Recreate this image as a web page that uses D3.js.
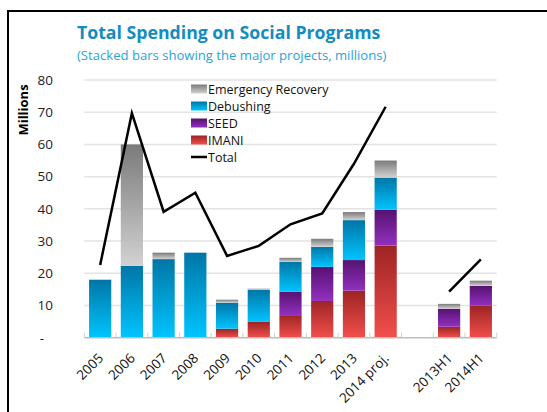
<!DOCTYPE html>
<html>
<head>
<meta charset="utf-8">
<script src="https://cdn.jsdelivr.net/npm/d3@7"></script>
<style>
  html, body { margin: 0; padding: 0; background: #fff; }
  svg { display: block; font-family: "Open Sans", "Noto Sans", sans-serif; }
</style>
</head>
<body>
<svg id="chart" width="547" height="412"></svg>
<script>
// Spending by programme, millions
const categories = ["2005", "2006", "2007", "2008", "2009", "2010", "2011", "2012", "2013", "2014 proj.", "", "2013H1", "2014H1"];
const imani      = [0, 0, 0, 0, 2.8, 4.9, 7.0, 11.4, 14.6, 28.6, null, 3.4, 9.9];
const seed       = [0, 0, 0, 0, 0, 0, 7.3, 10.6, 9.5, 11.1, null, 5.6, 6.2];
const debushing  = [18.0, 22.3, 24.4, 26.4, 8.1, 10.0, 9.2, 6.2, 12.4, 10.0, null, 0, 0];
const emergency  = [0, 37.7, 2.0, 0, 0.9, 0.3, 1.3, 2.5, 2.5, 5.3, null, 1.5, 1.6];
const total      = [22.6, 69.7, 39.1, 45.0, 25.4, 28.5, 35.2, 38.6, 54.0, 71.7, null, 14.3, 24.3];
const yTicks     = [0, 10, 20, 30, 40, 50, 60, 70, 80];

const seriesKeys  = ["imani", "seed", "debushing", "emergency"];
const seriesNames = { imani: "IMANI", seed: "SEED", debushing: "Debushing", emergency: "Emergency Recovery" };
const gradStops = {
  imani:     ["#9c2424", "#f24f4b"],
  seed:      ["#561270", "#9230c0"],
  debushing: ["#0076a6", "#00c4ff"],
  emergency: ["#7a7a7a", "#d2d2d2"]
};

const rows = categories.map((c, i) => ({
  cat: c,
  imani: imani[i] || 0,
  seed: seed[i] || 0,
  debushing: debushing[i] || 0,
  emergency: emergency[i] || 0,
  total: total[i]
}));

const svg = d3.select("#chart");

// frame
svg.append("line").attr("x1", 7).attr("x2", 547).attr("y1", 11).attr("y2", 11)
  .attr("stroke", "#000").attr("stroke-width", 2);
svg.append("line").attr("x1", 8).attr("x2", 8).attr("y1", 10).attr("y2", 412)
  .attr("stroke", "#000").attr("stroke-width", 2);

// headings
svg.append("text").attr("x", 77).attr("y", 39)
  .attr("font-size", 17.7).attr("font-weight", "bold").attr("fill", "#138cbf")
  .text("Total Spending on Social Programs");
svg.append("text").attr("x", 77).attr("y", 60)
  .attr("font-size", 13.1).attr("fill", "#2aa3d8")
  .text("(Stacked bars showing the major projects, millions)");

const x = d3.scaleBand().domain(categories).range([84.3, 496.7])
  .paddingInner(0.3).paddingOuter(0.15);
const y = d3.scaleLinear().domain([0, 80]).range([337.7, 80]);

// gradients
const defs = svg.append("defs");
seriesKeys.forEach(k => {
  const g = defs.append("linearGradient").attr("id", "grad-" + k)
    .attr("x1", 0).attr("y1", 0).attr("x2", 0).attr("y2", 1);
  g.append("stop").attr("offset", "0%").attr("stop-color", gradStops[k][0]);
  g.append("stop").attr("offset", "100%").attr("stop-color", gradStops[k][1]);
});

// gridlines
svg.append("g").selectAll("line").data(yTicks.filter(t => t > 0)).join("line")
  .attr("x1", 84.3).attr("x2", 496.7)
  .attr("y1", d => y(d)).attr("y2", d => y(d))
  .attr("stroke", "#e3e3e3").attr("stroke-width", 1.5);

// y axis labels
const yAxis = d3.axisLeft(y).tickValues(yTicks).tickSize(0).tickPadding(0)
  .tickFormat(d => d === 0 ? "-" : d);
const yg = svg.append("g").attr("transform", "translate(53,0)").call(yAxis);
yg.select(".domain").remove();
yg.selectAll("text").attr("font-size", 13.5).attr("fill", "#222")
  .attr("font-family", "\"Open Sans\", sans-serif")
  .attr("dx", d => d === 0 ? -9 : 0);

svg.append("text")
  .attr("transform", "translate(28,110) rotate(-90)")
  .attr("text-anchor", "middle").attr("font-size", 13).attr("font-weight", "bold")
  .attr("fill", "#000").text("Millions");

// stacked bars
const stack = d3.stack().keys(seriesKeys);
const layers = stack(rows);
svg.append("g").selectAll("g").data(layers).join("g")
  .attr("fill", d => "url(#grad-" + d.key + ")")
  .selectAll("rect").data(d => d.filter(p => p[1] - p[0] > 0)).join("rect")
  .attr("x", d => x(d.data.cat))
  .attr("width", x.bandwidth())
  .attr("y", d => y(d[1]))
  .attr("height", d => y(d[0]) - y(d[1]));

// x axis
const step = x.step();
const boundaries = d3.range(categories.length + 1).map(i => 84.3 + i * step);
svg.append("g").selectAll("line").data(boundaries).join("line")
  .attr("x1", d => d).attr("x2", d => d)
  .attr("y1", y(0)).attr("y2", y(0) - 5)
  .attr("stroke", "#d0d0d0").attr("stroke-width", 1);
svg.append("line").attr("x1", 84.3).attr("x2", 496.7)
  .attr("y1", y(0)).attr("y2", y(0))
  .attr("stroke", "#bdbdbd").attr("stroke-width", 1.5);

svg.append("g").selectAll("text").data(categories.filter(c => c !== "")).join("text")
  .attr("transform", d => `translate(${x(d) + x.bandwidth() / 2 + 4},359) rotate(-45)`)
  .attr("text-anchor", "end").attr("font-size", 13.5).attr("fill", "#111")
  .text(d => d);

// total line
const line = d3.line()
  .defined(d => d.total != null)
  .x(d => x(d.cat) + x.bandwidth() / 2)
  .y(d => y(d.total));
svg.append("path").datum(rows).attr("d", line)
  .attr("fill", "none").attr("stroke", "#000").attr("stroke-width", 2.5)
  .attr("stroke-linejoin", "miter");

// legend
const legendItems = ["emergency", "debushing", "seed", "imani", "total"];
const lg = svg.append("g").attr("transform", "translate(191,89)");
legendItems.forEach((k, i) => {
  const row = lg.append("g").attr("transform", `translate(0,${i * 17})`);
  if (k === "total") {
    row.append("line").attr("x1", 0).attr("x2", 16).attr("y1", 0).attr("y2", 0)
      .attr("stroke", "#000").attr("stroke-width", 2.5);
  } else {
    row.append("rect").attr("x", 0).attr("y", -4.5).attr("width", 16).attr("height", 9)
      .attr("fill", "url(#grad-" + k + ")");
  }
  row.append("text").attr("x", 17).attr("y", 4.5).attr("font-size", 12.5).attr("fill", "#111")
    .text(k === "total" ? "Total" : seriesNames[k]);
});
</script>
</body>
</html>
